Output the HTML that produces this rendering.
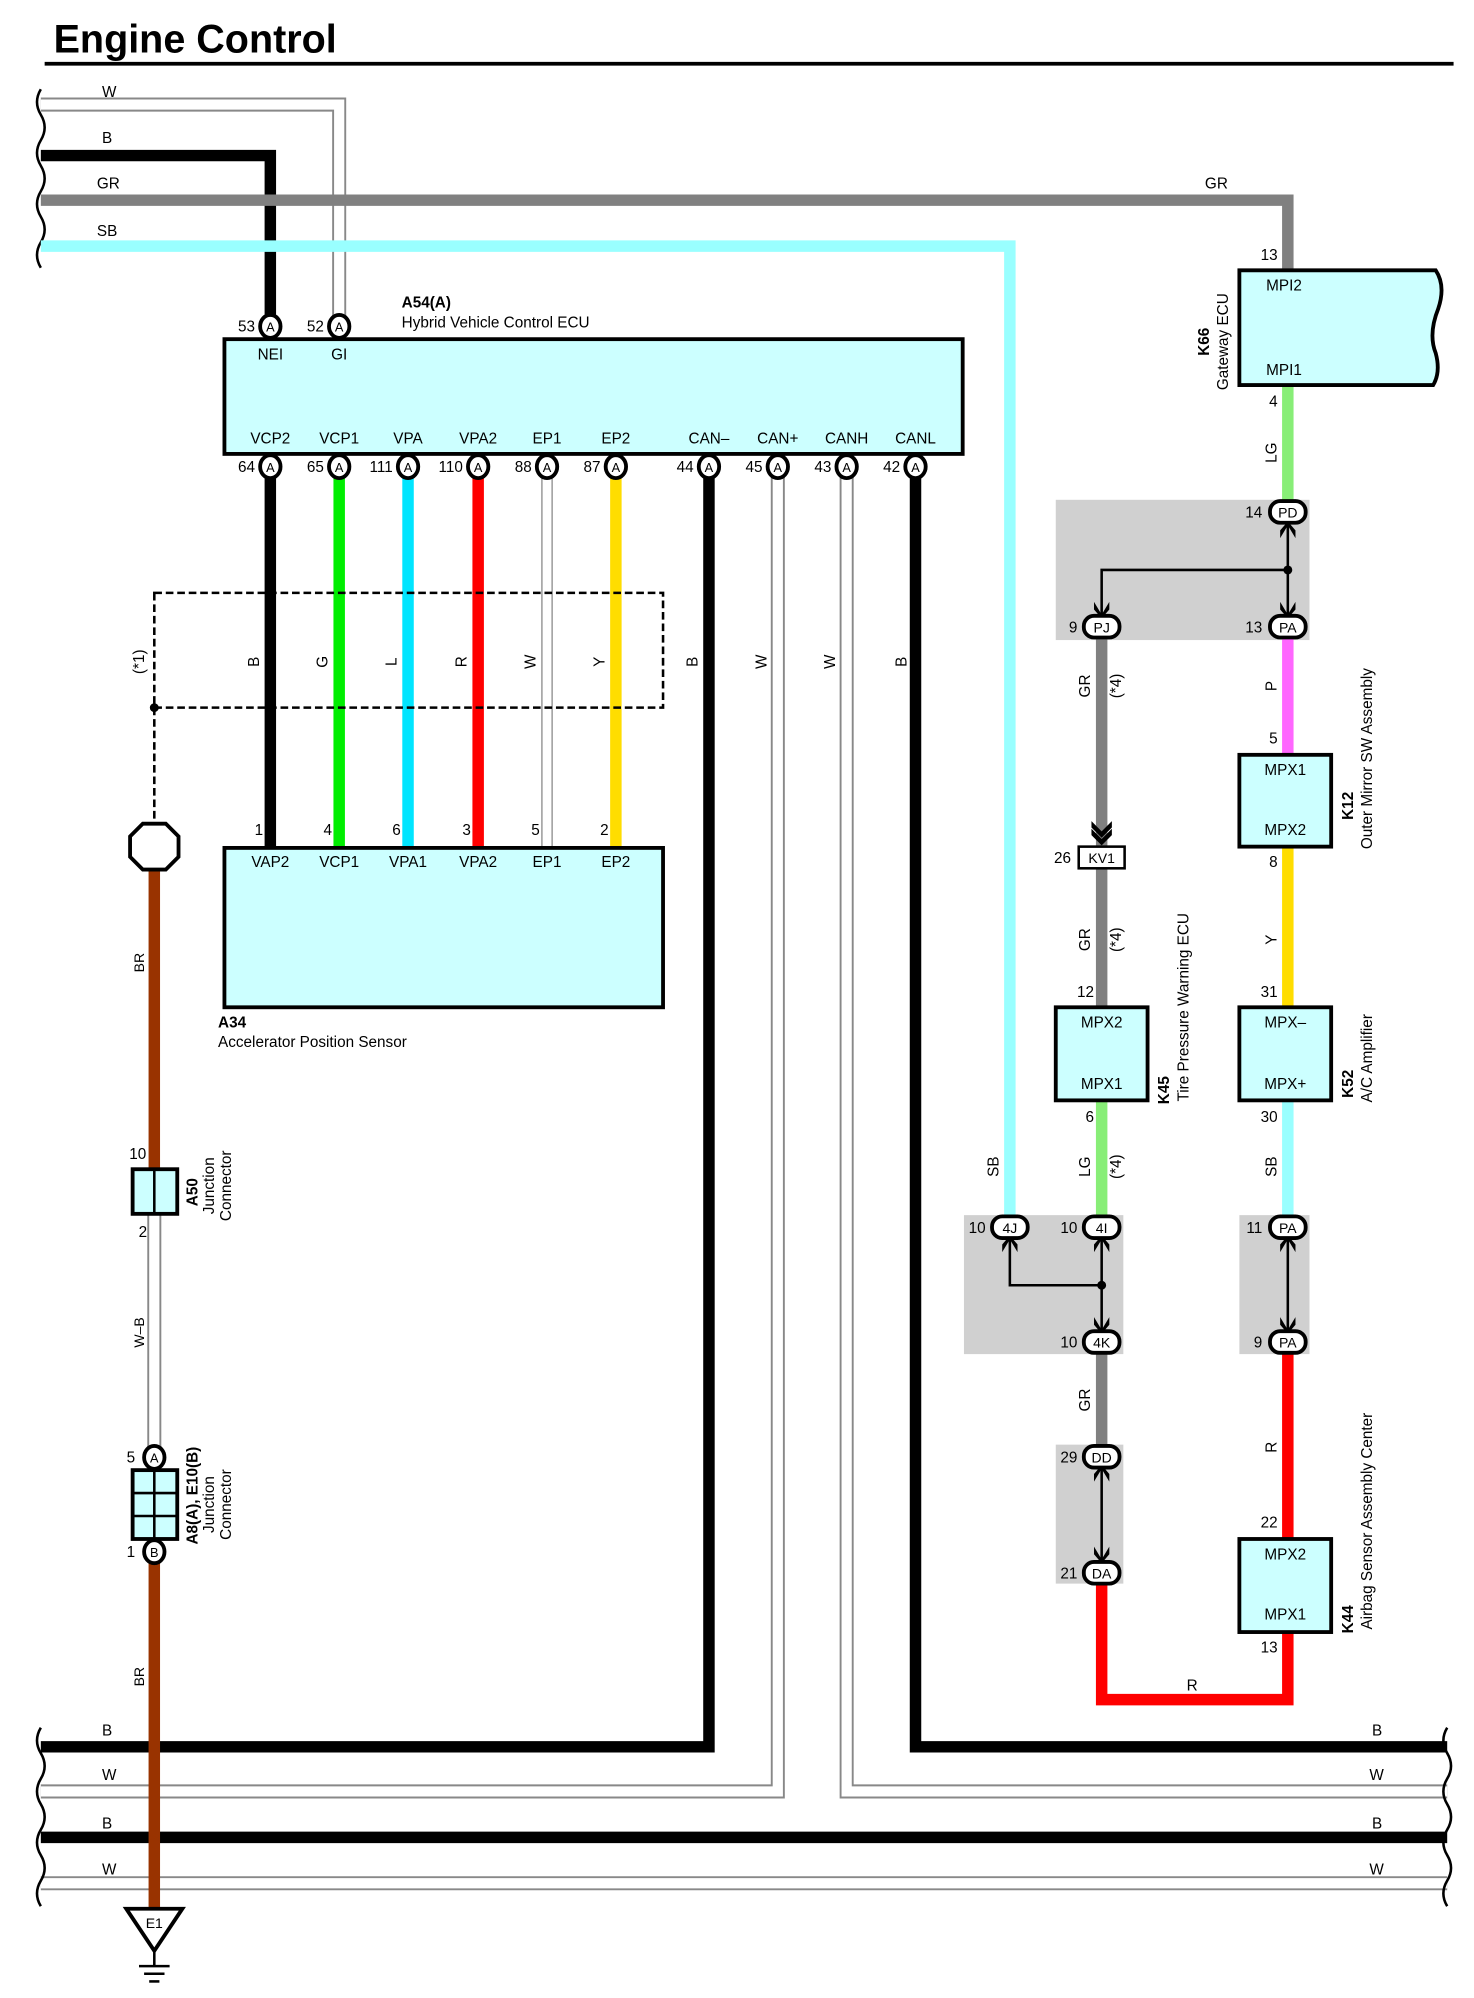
<!DOCTYPE html>
<html><head><meta charset="utf-8"><style>
html,body{margin:0;padding:0;background:#fff}
svg{display:block}
text{font-family:"Liberation Sans",Arial,sans-serif;font-size:12px;fill:#000}
.b{font-weight:bold}
.p{font-size:10px;text-anchor:middle}
.c{text-anchor:middle}
.r{text-anchor:end}
</style></head><body>
<svg width="1474" height="1998" viewBox="0 0 1156 1567" xmlns="http://www.w3.org/2000/svg">
<text x="42" y="41" class="b" style="font-size:31px">Engine Control</text>
<line x1="35" y1="50" x2="1140" y2="50" stroke="#000" stroke-width="3"/>

<path d="M32 70 q-6 10 0 20 q6 10 0 20 q-6 10 0 20 q6 10 0 20 q-6 10 0 20 q6 10 0 20 q-6 10 0 20" fill="none" stroke="#000" stroke-width="2"/>

<polyline points="32,82 266,82 266,250" fill="none" stroke="#888" stroke-width="11"/>
<polyline points="32,82 266,82 266,250" fill="none" stroke="#fff" stroke-width="8"/>
<polyline points="32,122 212,122 212,250" fill="none" stroke="#000" stroke-width="9"/>
<polyline points="32,157 1010,157 1010,212" fill="none" stroke="#808080" stroke-width="9"/>
<polyline points="32,193 792,193 792,955" fill="none" stroke="#99ffff" stroke-width="9"/>
<text x="80" y="76">W</text><text x="80" y="112">B</text><text x="76" y="148">GR</text><text x="76" y="185">SB</text><text x="945" y="148">GR</text>

<rect x="176" y="266" width="579" height="90" fill="#ccffff" stroke="#000" stroke-width="3"/>
<text x="315" y="241" class="b">A54(A)</text>
<text x="315" y="257">Hybrid Vehicle Control ECU</text>
<text x="212" y="282" class="c">NEI</text><text x="266" y="282" class="c">GI</text>
<text x="212" y="348" class="c">VCP2</text><text x="266" y="348" class="c">VCP1</text><text x="320" y="348" class="c">VPA</text><text x="375" y="348" class="c">VPA2</text><text x="429" y="348" class="c">EP1</text><text x="483" y="348" class="c">EP2</text><text x="556" y="348" class="c">CAN–</text><text x="610" y="348" class="c">CAN+</text><text x="664" y="348" class="c">CANH</text><text x="718" y="348" class="c">CANL</text>

<line x1="212" y1="366" x2="212" y2="665" stroke="#000" stroke-width="9"/>
<line x1="266" y1="366" x2="266" y2="665" stroke="#00ee00" stroke-width="9"/>
<line x1="320" y1="366" x2="320" y2="665" stroke="#00e5ff" stroke-width="9"/>
<line x1="375" y1="366" x2="375" y2="665" stroke="#ff0000" stroke-width="9"/>
<line x1="429" y1="366" x2="429" y2="665" stroke="#888" stroke-width="9"/>
<line x1="429" y1="366" x2="429" y2="665" stroke="#fff" stroke-width="7"/>
<line x1="483" y1="366" x2="483" y2="665" stroke="#ffdd00" stroke-width="9"/>
<polyline points="556,366 556,1370 32,1370" fill="none" stroke="#000" stroke-width="9"/>
<polyline points="610,366 610,1405 32,1405" fill="none" stroke="#888" stroke-width="11"/>
<polyline points="610,366 610,1405 32,1405" fill="none" stroke="#fff" stroke-width="8"/>
<polyline points="664,366 664,1405 1135,1405" fill="none" stroke="#888" stroke-width="11"/>
<polyline points="664,366 664,1405 1135,1405" fill="none" stroke="#fff" stroke-width="8"/>
<polyline points="718,366 718,1370 1135,1370" fill="none" stroke="#000" stroke-width="9"/>
<line x1="32" y1="1441" x2="1135" y2="1441" stroke="#000" stroke-width="9"/>
<line x1="32" y1="1477" x2="1135" y2="1477" stroke="#888" stroke-width="11"/>
<line x1="32" y1="1477" x2="1135" y2="1477" stroke="#fff" stroke-width="8"/>

<g style="font-size:11px">
<text transform="translate(203,519) rotate(-90)" class="c">B</text>
<text transform="translate(257,519) rotate(-90)" class="c">G</text>
<text transform="translate(311,519) rotate(-90)" class="c">L</text>
<text transform="translate(366,519) rotate(-90)" class="c">R</text>
<text transform="translate(420,519) rotate(-90)" class="c">W</text>
<text transform="translate(474,519) rotate(-90)" class="c">Y</text>
<text transform="translate(547,519) rotate(-90)" class="c">B</text>
<text transform="translate(601,519) rotate(-90)" class="c">W</text>
<text transform="translate(655,519) rotate(-90)" class="c">W</text>
<text transform="translate(711,519) rotate(-90)" class="c">B</text>
<text transform="translate(113,519) rotate(-90)" class="c">(*1)</text>
</g>

<g fill="#fff" stroke="#000" stroke-width="3">
<ellipse cx="212" cy="256" rx="8" ry="9"/><ellipse cx="266" cy="256" rx="8" ry="9"/>
<ellipse cx="212" cy="366" rx="8" ry="9"/><ellipse cx="266" cy="366" rx="8" ry="9"/><ellipse cx="320" cy="366" rx="8" ry="9"/><ellipse cx="375" cy="366" rx="8" ry="9"/><ellipse cx="429" cy="366" rx="8" ry="9"/><ellipse cx="483" cy="366" rx="8" ry="9"/><ellipse cx="556" cy="366" rx="8" ry="9"/><ellipse cx="610" cy="366" rx="8" ry="9"/><ellipse cx="664" cy="366" rx="8" ry="9"/><ellipse cx="718" cy="366" rx="8" ry="9"/>
</g>
<text x="212" y="260" class="p">A</text><text x="266" y="260" class="p">A</text>
<text x="212" y="370" class="p">A</text><text x="266" y="370" class="p">A</text><text x="320" y="370" class="p">A</text><text x="375" y="370" class="p">A</text><text x="429" y="370" class="p">A</text><text x="483" y="370" class="p">A</text><text x="556" y="370" class="p">A</text><text x="610" y="370" class="p">A</text><text x="664" y="370" class="p">A</text><text x="718" y="370" class="p">A</text>
<text x="200" y="260" class="r">53</text><text x="254" y="260" class="r">52</text>
<text x="200" y="370" class="r">64</text><text x="254" y="370" class="r">65</text><text x="308" y="370" class="r">111</text><text x="363" y="370" class="r">110</text><text x="417" y="370" class="r">88</text><text x="471" y="370" class="r">87</text><text x="544" y="370" class="r">44</text><text x="598" y="370" class="r">45</text><text x="652" y="370" class="r">43</text><text x="706" y="370" class="r">42</text>

<rect x="121" y="465" width="399" height="90" fill="none" stroke="#000" stroke-width="2" stroke-dasharray="6,3"/>
<circle cx="121" cy="555" r="3.5"/>
<line x1="121" y1="555" x2="121" y2="646" stroke="#000" stroke-width="2" stroke-dasharray="6,3"/>

<rect x="176" y="665" width="344" height="125" fill="#ccffff" stroke="#000" stroke-width="3"/>
<text x="203" y="655" class="c">1</text><text x="257" y="655" class="c">4</text><text x="311" y="655" class="c">6</text><text x="366" y="655" class="c">3</text><text x="420" y="655" class="c">5</text><text x="474" y="655" class="c">2</text>
<text x="212" y="680" class="c">VAP2</text><text x="266" y="680" class="c">VCP1</text><text x="320" y="680" class="c">VPA1</text><text x="375" y="680" class="c">VPA2</text><text x="429" y="680" class="c">EP1</text><text x="483" y="680" class="c">EP2</text>
<text x="171" y="806" class="b">A34</text>
<text x="171" y="821">Accelerator Position Sensor</text>

<line x1="121" y1="680" x2="121" y2="918" stroke="#993300" stroke-width="9"/>
<line x1="121" y1="1220" x2="121" y2="1497" stroke="#993300" stroke-width="9"/>
<line x1="121" y1="952" x2="121" y2="1140" stroke="#888" stroke-width="11"/>
<line x1="121" y1="952" x2="121" y2="1140" stroke="#fff" stroke-width="8"/>
<polygon points="112,646 130,646 140,656 140,672 130,682 112,682 102,672 102,656" fill="#fff" stroke="#000" stroke-width="3"/>
<rect x="104" y="917" width="35" height="35" fill="#ccffff" stroke="#000" stroke-width="3"/>
<line x1="121" y1="917" x2="121" y2="952" stroke="#000" stroke-width="2"/>
<rect x="104" y="1153" width="35" height="54" fill="#ccffff" stroke="#000" stroke-width="3"/>
<line x1="121" y1="1153" x2="121" y2="1207" stroke="#000" stroke-width="2"/>
<line x1="104" y1="1171" x2="139" y2="1171" stroke="#000" stroke-width="2"/>
<line x1="104" y1="1189" x2="139" y2="1189" stroke="#000" stroke-width="2"/>
<ellipse cx="121" cy="1143" rx="8" ry="9" fill="#fff" stroke="#000" stroke-width="3"/><text x="121" y="1147" class="p">A</text>
<ellipse cx="121" cy="1217" rx="8" ry="9" fill="#fff" stroke="#000" stroke-width="3"/><text x="121" y="1221" class="p">B</text>
<polygon points="99,1497 143,1497 121,1530" fill="#fff" stroke="#000" stroke-width="3"/>
<text x="121" y="1512" class="c" style="font-size:11px">E1</text>
<line x1="121" y1="1530" x2="121" y2="1542" stroke="#000" stroke-width="2"/>
<line x1="109" y1="1542" x2="133" y2="1542" stroke="#000" stroke-width="2"/>
<line x1="113" y1="1548" x2="129" y2="1548" stroke="#000" stroke-width="2"/>
<line x1="117" y1="1554" x2="125" y2="1554" stroke="#000" stroke-width="2"/>
<text transform="translate(113,755) rotate(-90)" class="c" style="font-size:11px">BR</text>
<text transform="translate(113,1315) rotate(-90)" class="c" style="font-size:11px">BR</text>
<text transform="translate(113,1045) rotate(-90)" class="c" style="font-size:11px">W–B</text>
<text x="108" y="909" class="c">10</text><text x="112" y="970" class="c">2</text>
<text x="106" y="1147" class="r">5</text><text x="106" y="1221" class="r">1</text>
<text transform="translate(155,935) rotate(-90)" class="c b">A50</text>
<text transform="translate(168,930) rotate(-90)" class="c">Junction</text>
<text transform="translate(181,930) rotate(-90)" class="c">Connector</text>
<text transform="translate(155,1173) rotate(-90)" class="c b">A8(A), E10(B)</text>
<text transform="translate(168,1180) rotate(-90)" class="c">Junction</text>
<text transform="translate(181,1180) rotate(-90)" class="c">Connector</text>

<path d="M32 1355 q-6 10 0 20 q6 10 0 20 q-6 10 0 20 q6 10 0 20 q-6 10 0 20 q6 10 0 20 q-6 10 0 20" fill="none" stroke="#000" stroke-width="2"/>
<path d="M1135 1355 q-6 10 0 20 q6 10 0 20 q-6 10 0 20 q6 10 0 20 q-6 10 0 20 q6 10 0 20 q-6 10 0 20" fill="none" stroke="#000" stroke-width="2"/>
<text x="80" y="1361">B</text><text x="80" y="1396">W</text><text x="80" y="1434">B</text><text x="80" y="1470">W</text>
<text x="1076" y="1361">B</text><text x="1074" y="1396">W</text><text x="1076" y="1434">B</text><text x="1074" y="1470">W</text>

<rect x="828" y="392" width="199" height="110" fill="#d0d0d0"/>
<rect x="756" y="953" width="125" height="109" fill="#d0d0d0"/>
<rect x="972" y="953" width="55" height="109" fill="#d0d0d0"/>
<rect x="828" y="1133" width="53" height="109" fill="#d0d0d0"/>

<line x1="1010" y1="302" x2="1010" y2="400" stroke="#88ee77" stroke-width="9"/>
<line x1="1010" y1="500" x2="1010" y2="592" stroke="#ff66ff" stroke-width="9"/>
<line x1="1010" y1="664" x2="1010" y2="790" stroke="#ffdd00" stroke-width="9"/>
<line x1="1010" y1="863" x2="1010" y2="955" stroke="#99ffff" stroke-width="9"/>
<line x1="1010" y1="1060" x2="1010" y2="1207" stroke="#ff0000" stroke-width="9"/>
<polyline points="1010,1280 1010,1333 864,1333 864,1240" fill="none" stroke="#ff0000" stroke-width="9"/>
<line x1="864" y1="500" x2="864" y2="790" stroke="#808080" stroke-width="9"/>
<line x1="864" y1="863" x2="864" y2="955" stroke="#88ee77" stroke-width="9"/>
<line x1="864" y1="1060" x2="864" y2="1135" stroke="#808080" stroke-width="9"/>

<g stroke="#000" stroke-width="2" fill="none">
<polyline points="1010,410 1010,484"/><polyline points="1010,447 864,447 864,484"/>
<polyline points="792,972 792,1008 864,1008"/><polyline points="864,972 864,1044"/>
<polyline points="1010,972 1010,1044"/>
<polyline points="864,1152 864,1224"/>
</g>
<g fill="#000">
<circle cx="1010" cy="447" r="3.5"/><circle cx="864" cy="1008" r="3.5"/>
<polygon points="858,472 864,482 870,472 870,478 864,485 858,478"/>
<polygon points="1004,472 1010,482 1016,472 1016,478 1010,485 1004,478"/>
<polygon points="1004,422 1010,412 1016,422 1016,416 1010,409 1004,416"/>
<polygon points="786,982 792,972 798,982 798,976 792,969 786,976"/>
<polygon points="858,982 864,972 870,982 870,976 864,969 858,976"/>
<polygon points="858,1033 864,1043 870,1033 870,1039 864,1046 858,1039"/>
<polygon points="1004,982 1010,972 1016,982 1016,976 1010,969 1004,976"/>
<polygon points="1004,1033 1010,1043 1016,1033 1016,1039 1010,1046 1004,1039"/>
<polygon points="858,1162 864,1152 870,1162 870,1156 864,1149 858,1156"/>
<polygon points="858,1213 864,1223 870,1213 870,1219 864,1226 858,1219"/>
<polygon points="856,644 864,652 872,644 872,649 864,657 856,649"/>
<polygon points="856,650 864,658 872,650 872,655 864,663 856,655"/>
</g>

<g fill="#fff" stroke="#000" stroke-width="3">
<rect x="996" y="393" width="28" height="17" rx="8"/>
<rect x="850" y="483" width="28" height="17" rx="8"/>
<rect x="996" y="483" width="28" height="17" rx="8"/>
<rect x="778" y="954" width="28" height="17" rx="8"/>
<rect x="850" y="954" width="28" height="17" rx="8"/>
<rect x="850" y="1044" width="28" height="17" rx="8"/>
<rect x="996" y="954" width="28" height="17" rx="8"/>
<rect x="996" y="1044" width="28" height="17" rx="8"/>
<rect x="850" y="1134" width="28" height="17" rx="8"/>
<rect x="850" y="1225" width="28" height="17" rx="8"/>
</g>
<rect x="846" y="664" width="36" height="17" fill="#fff" stroke="#000" stroke-width="2"/>
<g style="font-size:11px">
<text x="1010" y="406" class="c" style="font-size:11px">PD</text><text x="990" y="406" class="r">14</text>
<text x="864" y="496" class="c" style="font-size:11px">PJ</text><text x="845" y="496" class="r">9</text>
<text x="1010" y="496" class="c" style="font-size:11px">PA</text><text x="990" y="496" class="r">13</text>
<text x="792" y="967" class="c" style="font-size:11px">4J</text><text x="773" y="967" class="r">10</text>
<text x="864" y="967" class="c" style="font-size:11px">4I</text><text x="845" y="967" class="r">10</text>
<text x="864" y="1057" class="c" style="font-size:11px">4K</text><text x="845" y="1057" class="r">10</text>
<text x="1010" y="967" class="c" style="font-size:11px">PA</text><text x="990" y="967" class="r">11</text>
<text x="1010" y="1057" class="c" style="font-size:11px">PA</text><text x="990" y="1057" class="r">9</text>
<text x="864" y="1147" class="c" style="font-size:11px">DD</text><text x="845" y="1147" class="r">29</text>
<text x="864" y="1238" class="c" style="font-size:11px">DA</text><text x="845" y="1238" class="r">21</text>
<text x="864" y="677" class="c" style="font-size:11px">KV1</text><text x="840" y="677" class="r">26</text>
</g>

<path d="M972 212 H1126 q8 12 2 30 q-8 20 -2 35 q4 15 -2 25 H972 Z" fill="#ccffff" stroke="#000" stroke-width="3"/>
<text x="993" y="228">MPI2</text><text x="993" y="294">MPI1</text>
<text x="1002" y="204" class="r">13</text><text x="1002" y="319" class="r">4</text>
<text transform="translate(948,268) rotate(-90)" class="c b">K66</text>
<text transform="translate(963,268) rotate(-90)" class="c">Gateway ECU</text>

<rect x="972" y="592" width="72" height="72" fill="#ccffff" stroke="#000" stroke-width="3"/>
<text x="1008" y="608" class="c">MPX1</text><text x="1008" y="655" class="c">MPX2</text>
<text x="1002" y="583" class="r">5</text><text x="1002" y="680" class="r">8</text>
<text transform="translate(1061,632) rotate(-90)" class="c b">K12</text>
<text transform="translate(1076,595) rotate(-90)" class="c">Outer Mirror SW Assembly</text>

<rect x="972" y="790" width="72" height="73" fill="#ccffff" stroke="#000" stroke-width="3"/>
<text x="1008" y="806" class="c">MPX–</text><text x="1008" y="854" class="c">MPX+</text>
<text x="1002" y="782" class="r">31</text><text x="1002" y="880" class="r">30</text>
<text transform="translate(1061,850) rotate(-90)" class="c b">K52</text>
<text transform="translate(1076,830) rotate(-90)" class="c">A/C Amplifier</text>

<rect x="972" y="1207" width="72" height="73" fill="#ccffff" stroke="#000" stroke-width="3"/>
<text x="1008" y="1223" class="c">MPX2</text><text x="1008" y="1270" class="c">MPX1</text>
<text x="1002" y="1198" class="r">22</text><text x="1002" y="1296" class="r">13</text>
<text transform="translate(1061,1270) rotate(-90)" class="c b">K44</text>
<text transform="translate(1076,1193) rotate(-90)" class="c">Airbag Sensor Assembly Center</text>

<rect x="828" y="790" width="72" height="73" fill="#ccffff" stroke="#000" stroke-width="3"/>
<text x="864" y="806" class="c">MPX2</text><text x="864" y="854" class="c">MPX1</text>
<text x="858" y="782" class="r">12</text><text x="858" y="880" class="r">6</text>
<text transform="translate(917,855) rotate(-90)" class="c b">K45</text>
<text transform="translate(932,790) rotate(-90)" class="c">Tire Pressure Warning ECU</text>

<g style="font-size:11px">
<text transform="translate(1001,355) rotate(-90)" class="c">LG</text>
<text transform="translate(1001,538) rotate(-90)" class="c">P</text>
<text transform="translate(1001,737) rotate(-90)" class="c">Y</text>
<text transform="translate(1001,915) rotate(-90)" class="c">SB</text>
<text transform="translate(1001,1135) rotate(-90)" class="c">R</text>
<text transform="translate(855,538) rotate(-90)" class="c">GR</text>
<text transform="translate(879,538) rotate(-90)" class="c">(*4)</text>
<text transform="translate(855,737) rotate(-90)" class="c">GR</text>
<text transform="translate(879,737) rotate(-90)" class="c">(*4)</text>
<text transform="translate(855,915) rotate(-90)" class="c">LG</text>
<text transform="translate(879,915) rotate(-90)" class="c">(*4)</text>
<text transform="translate(855,1098) rotate(-90)" class="c">GR</text>
<text transform="translate(783,915) rotate(-90)" class="c">SB</text>
<text x="935" y="1326" class="c">R</text>
</g>
</svg>
</body></html>
